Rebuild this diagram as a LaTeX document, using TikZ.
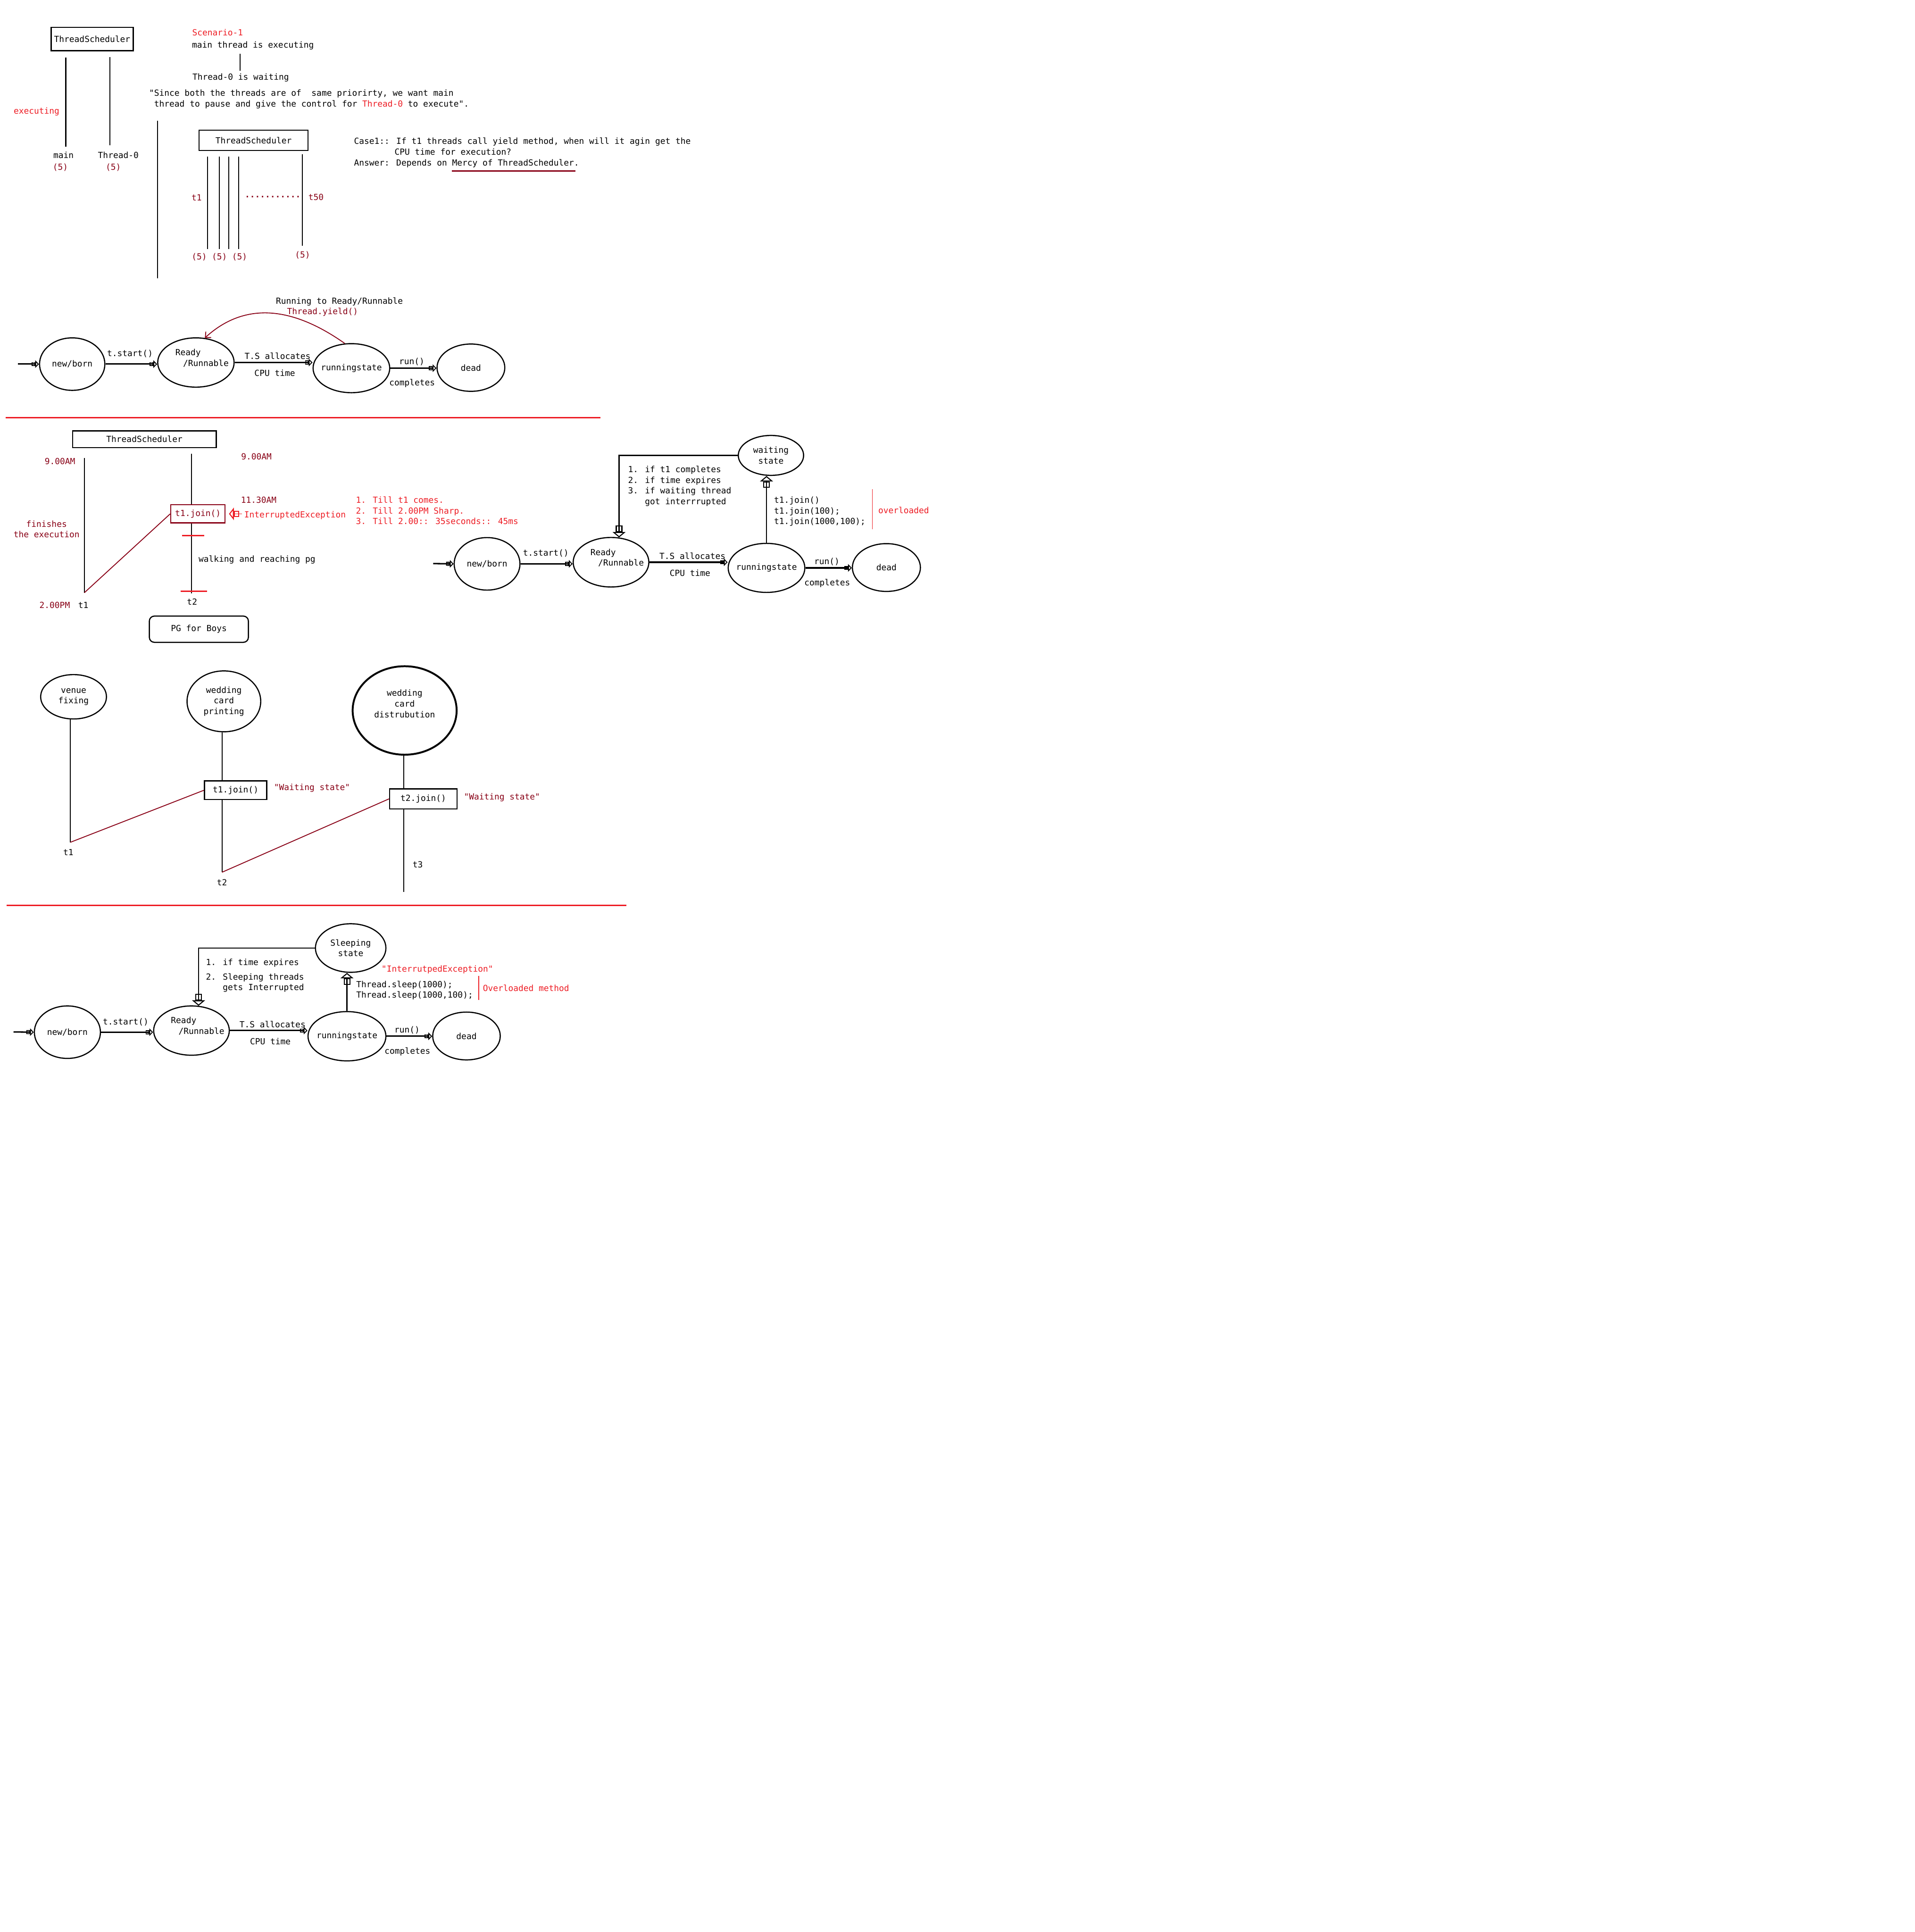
\documentclass[tikz,border=0pt]{standalone}
\usepackage{fontspec}
\usepackage{xcolor}
\newfontfamily\notefont{DejaVu Sans Mono}
\definecolor{NoteRed}{RGB}{237, 28, 36}
\definecolor{NoteMaroon}{RGB}{136, 0, 21}
\usetikzlibrary{shapes.geometric, arrows.meta}

\begin{document}
\begin{tikzpicture}[
        x=0.03cm, y=-0.03cm,
        font=\notefont\fontsize{5.84}{7.4}\selectfont,
        txt/.style={inner sep=0pt},
        redtxt/.style={text=NoteRed},
        maroontxt/.style={text=NoteMaroon},
        box/.style={rectangle, draw, line width=0.8pt, inner sep=0pt},
        state/.style={ellipse, draw, line width=0.8pt, inner sep=0pt},
        life/.style={line width=0.7pt},
        flow/.style={line width=1pt, -{Rectangle[open, length=2.6pt, width=2.8pt, line width=0.6pt]Triangle[open, length=2.6pt, width=5.2pt, line width=0.6pt]}},
        bigflow/.style={line width=0.8pt, -{Rectangle[open, length=4.4pt, width=4.6pt, line width=0.7pt]Triangle[open, length=3.8pt, width=9pt, line width=0.7pt]}},
        link/.style={NoteMaroon, line width=0.6pt},
        divider/.style={NoteRed, line width=0.8pt}
    ]
    \useasboundingbox (0,0) rectangle (1554,1568);

    % Scenario-1: main and Thread-0
    \node[box, minimum width=2.0cm, minimum height=0.567cm] (ts1) at (74.8,31.75) {ThreadScheduler};
    \coordinate (mainTop) at (53.4,46.7);
    \coordinate (mainEnd) at (53.4,119);
    \coordinate (zeroTop) at (89.2,46.4);
    \coordinate (zeroEnd) at (89.2,118);
    \draw[life] (mainTop) -- (mainEnd);
    \draw[life] (zeroTop) -- (zeroEnd);
    \node[txt, redtxt] (exec) at (29.7,90.7) {executing};
    \node[txt] (mainlbl) at (51.5,126) {main};
    \node[txt, maroontxt] (mainprio) at (49,136) {(5)};
    \node[txt] (zerolbl) at (96,126) {Thread-0};
    \node[txt, maroontxt] (zeroprio) at (92,136) {(5)};

    \node[txt, redtxt, anchor=west] (scen) at (155.8,26.3) {Scenario-1};
    \node[txt, anchor=west] (mainrun) at (155.6,37) {main thread is executing};
    \node[txt, anchor=west] (zerowait) at (156,63.2) {Thread-0 is waiting};
    \coordinate (stepA) at (194.8,43.5);
    \coordinate (stepB) at (194.8,57.5);
    \draw[life] (stepA) -- (stepB);
    \node[txt, align=left, anchor=west] (quote) at (120.8,80.45) {"Since both the threads are of\ \ same priorirty, we want main\\\phantom{"}thread to pause and give the control for \textcolor{NoteRed}{Thread-0} to execute".};

    % t1 ... t50
    \coordinate (poolTop) at (127.7,98);
    \coordinate (poolEnd) at (127.7,226);
    \draw[life] (poolTop) -- (poolEnd);
    \node[box, minimum width=2.652cm, minimum height=0.495cm] (ts2) at (205.8,113.95) {ThreadScheduler};
    \foreach \lx in {168.5, 177.9, 185.5, 193.7}
        \draw[life] (\lx,127) -- (\lx,202);
    \draw[life] (245.3,125) -- (245.3,199.6);
    \node[txt, maroontxt] (tfirst) at (159.6,160.4) {t1};
    \node[txt, maroontxt, anchor=west, font=\notefont\bfseries\fontsize{5.84}{7.4}\selectfont] (tdots) at (198.5,160.6) {···········};
    \node[txt, maroontxt] (tlast) at (256.5,160) {t50};
    \foreach \px/\py in {161.7/208.6, 178.1/208.6, 194.5/208.6, 245.6/207}
        \node[txt, maroontxt] at (\px,\py) {(5)};

    \node[txt, align=left, anchor=west] (case1) at (287.1,123.85) {Case1:: If t1 threads call yield method, when will it agin get the\\\phantom{Case1::\ }CPU time for execution?\\Answer: Depends on Mercy of ThreadScheduler.};
    \coordinate (ulA) at (366.7,138.7);
    \coordinate (ulB) at (467.2,138.7);
    \draw[NoteMaroon, line width=0.9pt] (ulA) -- (ulB);

    % Life cycle with yield()
    \node[state, minimum width=1.59cm, minimum height=1.278cm, label=center:new/born] (nb1) at (58.6,295.5) {};
    \node[state, minimum width=1.86cm, minimum height=1.2cm, label={[align=left, xshift=0.15cm, yshift=0.11cm]center:{Ready\\\hspace*{5.3pt}/Runnable}}] (rd1) at (159,294.2) {};
    \node[state, minimum width=1.866cm, minimum height=1.194cm, label=center:runningstate] (rs1) at (285.2,298.8) {};
    \node[state, minimum width=1.65cm, minimum height=1.152cm, label=center:dead] (dd1) at (382.2,298.4) {};
    \coordinate (in1) at (14.7,295.5);
    \draw[flow] (in1) -- (nb1.west);
    \draw[flow] (nb1.east) -- (nb1.east -| rd1.west);
    \draw[flow] (rd1.east) -- (rd1.east -| rs1.west);
    \draw[flow] (rs1.east) -- (rs1.east -| dd1.west);
    \node[txt] (start1) at (105.5,287) {t.start()};
    \node[txt] (alloc1) at (225.3,289) {T.S allocates};
    \node[txt] (cpu1) at (223,302.9) {CPU time};
    \node[txt] (run1) at (334.2,293.6) {run()};
    \node[txt] (done1) at (334.5,311) {completes};
    \draw[link, -{Straight Barb[length=3pt, width=5.5pt]}] (rs1.105) .. controls (232,245) and (195,248) .. (rd1.70);
    \node[txt] (back1) at (275.5,244.7) {Running to Ready/Runnable};
    \node[txt, maroontxt] (yield1) at (261.8,253.2) {Thread.yield()};

    \coordinate (cutA) at (4.5,339);
    \coordinate (cutB) at (487.2,339);
    \draw[divider] (cutA) -- (cutB);

    % join(): walking to the PG
    \node[box, minimum width=3.498cm, minimum height=0.408cm] (ts3) at (117.2,356.5) {ThreadScheduler};
    \node[box, draw=NoteMaroon, text=NoteMaroon, minimum width=1.323cm, minimum height=0.441cm] (j1) at (160.65,417.05) {t1.join()};
    \coordinate (boyTop) at (68.5,371.7);
    \coordinate (boyEnd) at (68.5,481);
    \coordinate (girlTop) at (155.5,368.3);
    \coordinate (girlEnd) at (155.5,481.4);
    \draw[line width=0.5pt] (boyTop) -- (boyEnd);
    \draw[line width=0.5pt] (girlTop) -- (girlTop |- j1.north);
    \draw[line width=0.5pt] (girlEnd |- j1.south) -- (girlEnd);
    \draw[link] (boyEnd) -- (j1.west);
    \coordinate (tickA) at (147.6,434.8);
    \coordinate (tickB) at (165.6,434.8);
    \coordinate (tickC) at (146.5,479.8);
    \coordinate (tickD) at (168.2,479.8);
    \draw[NoteRed, line width=0.9pt] (tickA) -- (tickB);
    \draw[NoteRed, line width=0.9pt] (tickC) -- (tickD);
    \coordinate (jtail) at (196.2,417.05);
    \draw[NoteRed, line width=0.6pt, shorten >=0.08cm, -{Rectangle[open, length=3.6pt, width=4.2pt, line width=0.7pt]Triangle[open, length=3.4pt, width=8.6pt, line width=0.7pt]}] (jtail) -- (jtail -| j1.east);
    \node[txt, redtxt, anchor=west] (intexc) at (198,418.2) {InterruptedException};
    \node[txt, maroontxt] (nineL) at (48.7,374.4) {9.00AM};
    \node[txt, maroontxt] (nineR) at (208.1,370.5) {9.00AM};
    \node[txt, maroontxt] (eleven) at (210,405.7) {11.30AM};
    \node[txt, redtxt, align=left, anchor=west] (tills) at (288.6,414.4) {1. Till t1 comes.\\2. Till 2.00PM Sharp.\\3. Till 2.00:: 35seconds:: 45ms};
    \node[txt, maroontxt, align=center] (finish) at (37.8,429.4) {finishes\\the execution};
    \node[txt, anchor=west] (walk) at (161,454.1) {walking and reaching pg};
    \node[txt, maroontxt] (twoPM) at (44.4,491.3) {2.00PM};
    \node[txt] (boylbl) at (67.6,491) {t1};
    \node[txt] (girllbl) at (155.9,488.5) {t2};
    \node[box, rounded corners=3.5pt, minimum width=2.412cm, minimum height=0.639cm] (pg) at (161.4,510.65) {PG for Boys};

    % Life cycle with join()
    \node[state, minimum width=1.602cm, minimum height=1.278cm, label=center:new/born] (nb2) at (395.3,457.6) {};
    \node[state, minimum width=1.842cm, minimum height=1.206cm, label={[align=left, xshift=0.15cm, yshift=0.11cm]center:{Ready\\\hspace*{5.3pt}/Runnable}}] (rd2) at (495.9,456.3) {};
    \node[state, minimum width=1.866cm, minimum height=1.194cm, label=center:runningstate] (rs2) at (622.1,460.9) {};
    \node[state, minimum width=1.656cm, minimum height=1.164cm, label=center:dead] (dd2) at (719.4,460.6) {};
    \node[state, minimum width=1.59cm, minimum height=0.972cm, label={[align=center]center:{waiting\\state}}] (ws2) at (625.7,369.6) {};
    \coordinate (in2) at (351.6,457.4);
    \draw[flow] (in2) -- (nb2.west);
    \draw[flow] (nb2.east) -- (nb2.east -| rd2.west);
    \draw[flow] (rd2.east) -- (rd2.east -| rs2.west);
    \draw[flow] (rs2.east) -- (rs2.east -| dd2.west);
    \draw[bigflow] (rs2.north) -- (rs2.north |- ws2.south);
    \draw[bigflow] (ws2.west) -| (rd2.72);
    \node[txt] (start2) at (443,449.1) {t.start()};
    \node[txt] (alloc2) at (562,451.2) {T.S allocates};
    \node[txt] (cpu2) at (560,465.2) {CPU time};
    \node[txt] (run2) at (671.1,455.9) {run()};
    \node[txt] (done2) at (671.4,473.3) {completes};
    \node[txt, align=left, anchor=west] (joinwhy) at (509.5,394.55) {1. if t1 completes\\2. if time expires\\3. if waiting thread\\\phantom{3. }got interrrupted};
    \node[txt, align=left, anchor=west] (joins) at (628,415.1) {t1.join()\\t1.join(100);\\t1.join(1000,100);};
    \coordinate (olA) at (708,397.1);
    \coordinate (olB) at (708,429.5);
    \draw[NoteRed, line width=0.6pt] (olA) -- (olB);
    \node[txt, redtxt, anchor=west] (overl) at (712.6,414) {overloaded};

    % Wedding example
    \node[state, minimum width=1.602cm, minimum height=1.08cm, label={[align=center]center:{venue\\fixing}}] (vf) at (59.7,565.5) {};
    \node[state, minimum width=1.794cm, minimum height=1.482cm, label={[align=center]center:{wedding\\card\\printing}}] (wp) at (181.7,569.2) {};
    \node[state, line width=1.3pt, minimum width=2.532cm, minimum height=2.154cm, label={[align=center, yshift=0.165cm]center:{wedding\\card\\distrubution}}] (wd) at (328.4,576.6) {};
    \node[box, minimum width=1.515cm, minimum height=0.453cm] (j1w) at (191.25,641.35) {t1.join()};
    \node[box, minimum width=1.644cm, minimum height=0.489cm] (j2w) at (343.6,648.35) {t2.join()};
    \coordinate (w1End) at (57.1,683.6);
    \coordinate (w2End) at (180.2,707.9);
    \coordinate (w3End) at (327.8,724);
    \draw[line width=0.6pt] (w1End |- vf.south) -- (w1End);
    \draw[line width=0.6pt] (w2End |- wp.south) -- (w2End |- j1w.north);
    \draw[line width=0.6pt] (w2End |- j1w.south) -- (w2End);
    \draw[line width=0.6pt] (w3End |- wd.south) -- (w3End |- j2w.north);
    \draw[line width=0.6pt] (w3End |- j2w.south) -- (w3End);
    \draw[link] (w1End) -- (j1w.west);
    \draw[link] (w2End) -- (j2w.west);
    \node[txt, maroontxt, anchor=west] (wait1) at (222.1,639.4) {"Waiting state"};
    \node[txt, maroontxt, anchor=west] (wait2) at (376.3,647.1) {"Waiting state"};
    \node[txt] (w1lbl) at (55.5,691.7) {t1};
    \node[txt] (w2lbl) at (180.2,716.1) {t2};
    \node[txt] (w3lbl) at (339,701.8) {t3};

    \coordinate (cutC) at (5.3,734.8);
    \coordinate (cutD) at (508.3,734.8);
    \draw[divider] (cutC) -- (cutD);

    % Life cycle with sleep()
    \node[state, minimum width=1.608cm, minimum height=1.278cm, label=center:new/born] (nb4) at (54.7,837.7) {};
    \node[state, minimum width=1.842cm, minimum height=1.2cm, label={[align=left, xshift=0.15cm, yshift=0.11cm]center:{Ready\\\hspace*{5.3pt}/Runnable}}] (rd4) at (155.4,836.4) {};
    \node[state, minimum width=1.896cm, minimum height=1.2cm, label=center:runningstate] (rs4) at (281.6,841) {};
    \node[state, minimum width=1.644cm, minimum height=1.164cm, label=center:dead] (dd4) at (378.6,840.8) {};
    \node[state, minimum width=1.716cm, minimum height=1.182cm, label={[align=center]center:{Sleeping\\state}}] (sl4) at (284.6,769.4) {};
    \coordinate (in4) at (11,837.5);
    \draw[flow] (in4) -- (nb4.west);
    \draw[flow] (nb4.east) -- (nb4.east -| rd4.west);
    \draw[flow] (rd4.east) -- (rd4.east -| rs4.west);
    \draw[flow] (rs4.east) -- (rs4.east -| dd4.west);
    \draw[bigflow] (rs4.north) -- (rs4.north |- sl4.south);
    \draw[bigflow] (sl4.west) -| (rd4.74);
    \node[txt] (start4) at (102,829.5) {t.start()};
    \node[txt] (alloc4) at (221.2,831.2) {T.S allocates};
    \node[txt] (cpu4) at (219.4,845) {CPU time};
    \node[txt] (run4) at (330.4,836.2) {run()};
    \node[txt] (done4) at (330.7,853.4) {completes};
    \node[txt, align=left, anchor=west] (sleepwhy) at (166.9,791.85) {1. if time expires\\[2.5pt]2. Sleeping threads\\\phantom{2. }gets Interrupted};
    \node[txt, redtxt] (sleepexc) at (355,787) {"InterrutpedException"};
    \node[txt, align=left, anchor=west] (sleeps) at (288.9,803.65) {Thread.sleep(1000);\\Thread.sleep(1000,100);};
    \coordinate (omA) at (388.6,792.1);
    \coordinate (omB) at (388.6,811.6);
    \draw[NoteRed, line width=0.6pt] (omA) -- (omB);
    \node[txt, redtxt, anchor=west] (overm) at (391.7,802) {Overloaded method};
\end{tikzpicture}
\end{document}
